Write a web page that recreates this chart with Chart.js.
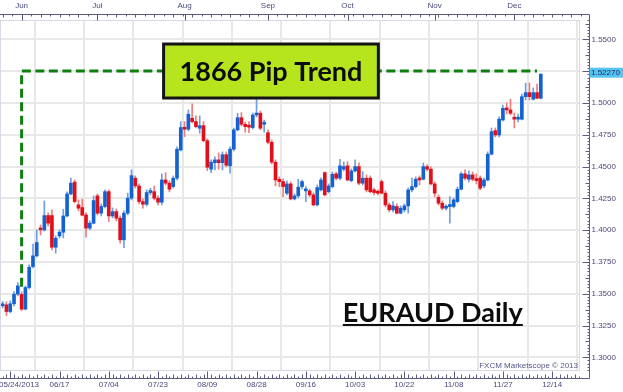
<!DOCTYPE html>
<html><head><meta charset="utf-8">
<script src="https://cdn.jsdelivr.net/npm/chart.js@4.4.0/dist/chart.umd.min.js"></script>
<style>html,body{margin:0;padding:0;background:#fff;overflow:hidden}canvas{display:block}</style>
</head><body>
<canvas id="c" width="623" height="392"></canvas>
<script>
// ---- data (EUR/AUD daily candles) ----
const dates = [
 '05/24','05/27','05/28','05/29','05/30','05/31',
 '06/03','06/04','06/05','06/06','06/07','06/10','06/11','06/12','06/13','06/14',
 '06/17','06/18','06/19','06/20','06/21','06/24','06/25','06/26','06/27','06/28',
 '07/01','07/02','07/03','07/04','07/05','07/08','07/09','07/10','07/11','07/12',
 '07/15','07/16','07/17','07/18','07/19','07/22','07/23','07/24','07/25','07/26',
 '07/29','07/30','07/31','08/01','08/02','08/05','08/06','08/07','08/08','08/09',
 '08/12','08/13','08/14','08/15','08/16','08/19','08/20','08/21','08/22','08/23',
 '08/26','08/27','08/28','08/29','08/30','09/02','09/03','09/04','09/05','09/06',
 '09/09','09/10','09/11','09/12','09/13','09/16','09/17','09/18','09/19','09/20',
 '09/23','09/24','09/25','09/26','09/27','09/30','10/01','10/02','10/03','10/04',
 '10/07','10/08','10/09','10/10','10/11','10/14','10/15','10/16','10/17','10/18',
 '10/21','10/22','10/23','10/24','10/25','10/28','10/29','10/30','10/31','11/01',
 '11/04','11/05','11/06','11/07','11/08','11/11','11/12','11/13','11/14','11/15',
 '11/18','11/19','11/20','11/21','11/22','11/25','11/26','11/27','11/28','11/29',
 '12/02','12/03','12/04','12/05','12/06','12/09','12/10','12/11'
];
const open = [
 1.3295,1.3405,1.3413,1.3360,1.3421,1.3497,1.3495,1.3379,1.3549,1.3714,
 1.3798,1.4016,1.4002,1.4115,1.4115,1.3866,1.3955,1.3984,1.4112,1.4285,
 1.4378,1.4199,1.4178,1.4120,1.4016,1.4055,1.4270,1.4134,1.4186,1.4303,
 1.4112,1.4146,1.4094,1.3924,1.4134,1.4252,1.4409,1.4348,1.4225,1.4204,
 1.4296,1.4303,1.4252,1.4220,1.4395,1.4370,1.4343,1.4409,1.4631,1.4807,
 1.4794,1.4880,1.4854,1.4802,1.4822,1.4704,1.4480,1.4531,1.4553,1.4531,
 1.4594,1.4506,1.4637,1.4789,1.4885,1.4833,1.4814,1.4807,1.4906,1.4920,
 1.4833,1.4767,1.4692,1.4535,1.4401,1.4382,1.4291,1.4364,1.4246,1.4270,
 1.4343,1.4309,1.4309,1.4278,1.4199,1.4317,1.4453,1.4303,1.4343,1.4443,
 1.4409,1.4480,1.4506,1.4390,1.4466,1.4500,1.4370,1.4409,1.4409,1.4317,
 1.4303,1.4382,1.4291,1.4199,1.4160,1.4186,1.4134,1.4160,1.4191,1.4317,
 1.4343,1.4409,1.4401,1.4500,1.4480,1.4364,1.4259,1.4212,1.4173,1.4186,
 1.4186,1.4225,1.4322,1.4443,1.4401,1.4435,1.4401,1.4409,1.4348,1.4395,
 1.4598,1.4783,1.4749,1.4867,1.4959,1.4946,1.4880,1.4873,1.4873,1.5050,
 1.5082,1.5030,1.5082,1.5038
];
const high = [
 1.3428,1.3439,1.3436,1.3444,1.3517,1.3588,1.3515,1.3562,1.3727,1.3890,
 1.4002,1.4042,1.4230,1.4136,1.4160,1.3955,1.4002,1.4165,1.4301,1.4409,
 1.4395,1.4238,1.4244,1.4136,1.4073,1.4270,1.4285,1.4207,1.4317,1.4317,
 1.4175,1.4167,1.4112,1.4152,1.4291,1.4474,1.4427,1.4364,1.4246,1.4317,
 1.4330,1.4348,1.4270,1.4443,1.4453,1.4388,1.4427,1.4655,1.4854,1.4854,
 1.4946,1.4993,1.4899,1.4899,1.4854,1.4718,1.4553,1.4576,1.4608,1.4616,
 1.4616,1.4655,1.4804,1.4920,1.4925,1.4851,1.4854,1.4922,1.5030,1.4938,
 1.4867,1.4789,1.4710,1.4553,1.4419,1.4403,1.4388,1.4380,1.4285,1.4401,
 1.4395,1.4343,1.4325,1.4293,1.4356,1.4411,1.4458,1.4364,1.4458,1.4458,
 1.4558,1.4537,1.4539,1.4482,1.4553,1.4529,1.4461,1.4435,1.4427,1.4332,
 1.4317,1.4395,1.4309,1.4215,1.4225,1.4207,1.4191,1.4207,1.4332,1.4409,
 1.4419,1.4427,1.4529,1.4516,1.4498,1.4380,1.4278,1.4230,1.4199,1.4264,
 1.4254,1.4340,1.4458,1.4474,1.4466,1.4458,1.4443,1.4427,1.4411,1.4616,
 1.4804,1.4804,1.4891,1.4985,1.5001,1.5030,1.4922,1.4914,1.5071,1.5156,
 1.5158,1.5119,1.5150,1.5230
];
const low = [
 1.3248,1.3389,1.3329,1.3350,1.3405,1.3483,1.3366,1.3373,1.3538,1.3704,
 1.3790,1.3963,1.3994,1.4034,1.3845,1.3819,1.3939,1.3939,1.4105,1.4278,
 1.4215,1.4152,1.4112,1.3945,1.4002,1.4050,1.4120,1.4112,1.4175,1.4068,
 1.4097,1.4073,1.3898,1.3863,1.4120,1.4238,1.4332,1.4207,1.4173,1.4191,
 1.4278,1.4238,1.4199,1.4199,1.4356,1.4301,1.4332,1.4395,1.4623,1.4736,
 1.4781,1.4844,1.4804,1.4763,1.4694,1.4469,1.4453,1.4474,1.4480,1.4474,
 1.4498,1.4448,1.4623,1.4781,1.4820,1.4770,1.4767,1.4796,1.4891,1.4789,
 1.4770,1.4678,1.4521,1.4348,1.4343,1.4264,1.4278,1.4238,1.4238,1.4254,
 1.4325,1.4225,1.4262,1.4191,1.4191,1.4309,1.4270,1.4293,1.4332,1.4395,
 1.4395,1.4466,1.4388,1.4380,1.4458,1.4356,1.4356,1.4301,1.4293,1.4278,
 1.4278,1.4285,1.4183,1.4144,1.4144,1.4128,1.4128,1.4144,1.4134,1.4301,
 1.4332,1.4356,1.4395,1.4466,1.4356,1.4262,1.4199,1.4160,1.4160,1.4055,
 1.4175,1.4215,1.4317,1.4395,1.4380,1.4388,1.4364,1.4317,1.4332,1.4388,
 1.4592,1.4734,1.4734,1.4859,1.4914,1.4906,1.4804,1.4851,1.4867,1.5024,
 1.5024,1.5024,1.5032,1.5032
];
const close = [
 1.3397,1.3421,1.3360,1.3421,1.3497,1.3562,1.3379,1.3549,1.3709,1.3798,
 1.3903,1.4002,1.4115,1.4055,1.3866,1.3937,1.3984,1.4112,1.4285,1.4370,
 1.4225,1.4173,1.4118,1.4016,1.4055,1.4233,1.4134,1.4186,1.4303,1.4112,
 1.4146,1.4094,1.3924,1.4134,1.4252,1.4429,1.4348,1.4225,1.4204,1.4296,
 1.4311,1.4252,1.4220,1.4395,1.4370,1.4322,1.4409,1.4637,1.4807,1.4794,
 1.4912,1.4854,1.4814,1.4822,1.4704,1.4495,1.4535,1.4553,1.4531,1.4594,
 1.4511,1.4637,1.4789,1.4885,1.4833,1.4814,1.4810,1.4906,1.4920,1.4802,
 1.4841,1.4692,1.4535,1.4395,1.4382,1.4343,1.4364,1.4246,1.4270,1.4338,
 1.4382,1.4317,1.4278,1.4199,1.4335,1.4395,1.4278,1.4348,1.4440,1.4409,
 1.4506,1.4500,1.4395,1.4466,1.4500,1.4370,1.4409,1.4317,1.4303,1.4296,
 1.4291,1.4291,1.4199,1.4160,1.4191,1.4134,1.4173,1.4191,1.4317,1.4343,
 1.4401,1.4395,1.4500,1.4480,1.4364,1.4291,1.4212,1.4173,1.4186,1.4191,
 1.4238,1.4322,1.4443,1.4409,1.4435,1.4401,1.4390,1.4330,1.4395,1.4598,
 1.4775,1.4749,1.4873,1.4959,1.4946,1.4920,1.4873,1.4880,1.5050,1.5082,
 1.5050,1.5082,1.5038,1.5227
];
// tick labels
const dateTickIndex  = [3,16,29,42,55,68,81,94,107,120,133,146];
const dateTickLabels = ['05/24/2013','06/17','07/04','07/23','08/09','08/28','09/16','10/03','10/22','11/08','11/27','12/14'];
const monthTickIndex  = [6,26,49,71,92,115,136];
const monthTickLabels = ['Jun','Jul','Aug','Sep','Oct','Nov','Dec'];
const priceTicks = [1.3000,1.3250,1.3500,1.3750,1.4000,1.4250,1.4500,1.4750,1.5000,1.5250,1.5500];
// trend annotation (data space)
const trendIndex = [6, 6, 142];
const trendPrice = [1.3555, 1.5252, 1.5252];
const trendLabel = '1866 Pip Trend';
const titleText  = 'EURAUD Daily';
const creditText = 'FXCM Marketscope \u00A9 2013';

// ---- layout / style constants ----
const X_MIN = 0.30, X_MAX = 153.34, Y_MIN = 1.28923, Y_MAX = 1.56533;
const LABEL_BOX_INDEX = 71.8, TITLE_INDEX = 114.5, TITLE_PRICE = 1.3278;
const BLUE = '#1462d0', RED = '#e0101a', BLUE_W = '#6f9fe2', RED_W = '#ee7c7c';
const AXIS_COL = '#5c5c80', LABEL_COL = '#4a4a7c', GRID_COL = '#e8e8e8';
const SMALL_FONT = '8px "Liberation Sans", Arial, sans-serif';
const BIG_FONT = 'bold 27px Lato, "Open Sans", sans-serif';

const idx = dates.map((d, i) => i);
const up = idx.map(i => close[i] >= open[i]);

const overlay = {
  id: 'overlay',
  afterDatasetsDraw(chart) {
    const {ctx, scales: {x, y}} = chart;
    ctx.save();
    // "1866 Pip Trend" box on the trend line
    const cx = x.getPixelForValue(LABEL_BOX_INDEX), cy = y.getPixelForValue(trendPrice[1]);
    ctx.font = BIG_FONT;
    const tw = ctx.measureText(trendLabel).width;
    const bw = tw + 32, bh = 54;
    ctx.fillStyle = '#b6e51e';
    ctx.fillRect(cx - bw / 2, cy - bh / 2, bw, bh);
    ctx.lineWidth = 3; ctx.strokeStyle = '#141414';
    ctx.strokeRect(cx - bw / 2, cy - bh / 2, bw, bh);
    ctx.fillStyle = '#0c0c0c'; ctx.textAlign = 'center'; ctx.textBaseline = 'middle';
    ctx.fillText(trendLabel, cx, cy + 1);
    // title
    const tx = x.getPixelForValue(TITLE_INDEX), ty = y.getPixelForValue(TITLE_PRICE);
    ctx.font = BIG_FONT;
    ctx.textBaseline = 'alphabetic';
    const ttw = ctx.measureText(titleText).width;
    ctx.fillText(titleText, tx, ty);
    ctx.fillRect(tx - ttw / 2, ty + 2, ttw, 2);
    ctx.restore();
  },
  afterDraw(chart) {
    const {ctx, chartArea: a, scales: {x, y}} = chart;
    ctx.save();
    // plot frame
    ctx.strokeStyle = '#d6d9e2'; ctx.lineWidth = 1;
    ctx.strokeRect(a.left + 0.5, a.top + 0.5, a.right - a.left - 1, a.bottom - a.top - 1);
    const topY = a.top - 5.5, botY = a.bottom + 7.5, rX = a.right + 9.5;
    ctx.strokeStyle = AXIS_COL;
    ctx.beginPath();
    ctx.moveTo(0, topY); ctx.lineTo(rX, topY);
    ctx.moveTo(0, botY); ctx.lineTo(rX, botY);
    ctx.moveTo(rX, topY); ctx.lineTo(rX, botY);
    // top ticks
    for (let i = 0; i < 154; i++) {
      if ((i % 5) === 1) { const px = Math.round(x.getPixelForValue(i)) + 0.5; ctx.moveTo(px, topY); ctx.lineTo(px, topY + 3); }
      const pm = Math.round(x.getPixelForValue(i + 0.5)) + 0.5;
      if ((i % 5) === 3) { ctx.moveTo(pm, topY); ctx.lineTo(pm, topY + 2); }
    }
    monthTickIndex.forEach(v => { const px = Math.round(x.getPixelForValue(v)) + 0.5; ctx.moveTo(px, topY); ctx.lineTo(px, topY + 6); });
    // bottom ticks
    for (let i = 1; i < 154; i++) {
      const px = Math.round(x.getPixelForValue(i)) + 0.5;
      const len = (i % 2) ? 2 : 4;
      ctx.moveTo(px, botY); ctx.lineTo(px, botY - len);
    }
    dateTickIndex.forEach(v => { const px = Math.round(x.getPixelForValue(v)) + 0.5; ctx.moveTo(px, botY); ctx.lineTo(px, botY - 7); });
    // right ticks
    for (let k = 0; k * 0.0025 + 1.2875 < Y_MAX; k++) {
      const v = 1.2875 + k * 0.0025; if (v < Y_MIN) continue;
      const py = Math.round(y.getPixelForValue(v)) + 0.5;
      const len = (k % 10 === 5) ? 7 : (k % 5 === 0 ? 4 : 2);
      ctx.moveTo(rX, py); ctx.lineTo(rX - len, py);
    }
    ctx.stroke();
    // labels
    ctx.font = SMALL_FONT; ctx.fillStyle = LABEL_COL; ctx.textBaseline = 'middle';
    ctx.textAlign = 'center';
    monthTickIndex.forEach((v, k) => ctx.fillText(monthTickLabels[k], x.getPixelForValue(v), topY - 8.5));
    dateTickIndex.forEach((v, k) => {
      const w = ctx.measureText(dateTickLabels[k]).width;
      let px = x.getPixelForValue(v);
      px = Math.max(px, w / 2 - 1);
      ctx.fillText(dateTickLabels[k], px, botY + 6.5);
    });
    const last = close[close.length - 1];
    const ly = y.getPixelForValue(last) - 1.5;
    ctx.textAlign = 'left';
    priceTicks.forEach(v => {
      const py = y.getPixelForValue(v);
      if (Math.abs(py - ly) > 9) ctx.fillText(v.toFixed(4), rX + 2, py);
    });
    // last price marker
    ctx.fillStyle = '#56c4f2';
    ctx.fillRect(rX, ly - 5, 623 - rX, 10);
    ctx.fillStyle = '#1c2a5a';
    ctx.fillText(last.toFixed(5), rX + 1.5, ly);
    // credit
    ctx.textAlign = 'right'; ctx.fillStyle = '#55558a';
    ctx.fillText(creditText, a.right - 2, a.bottom - 5);
    ctx.restore();
  }
};

new Chart(document.getElementById('c'), {
  type: 'bar',
  data: {
    datasets: [
      { type: 'line', data: trendIndex.map((v, k) => ({x: v, y: trendPrice[k]})),
        borderColor: '#0e7f10', borderWidth: 3, borderDash: [9, 4.5], pointRadius: 0,
        fill: false, tension: 0, order: 0 },
      { label: 'wick', data: idx.map(i => ({x: i, y: [low[i], high[i]]})),
        backgroundColor: idx.map(i => up[i] ? BLUE_W : RED_W),
        barThickness: 1, grouped: false, order: 2 },
      { label: 'body', data: idx.map(i => ({x: i, y: [open[i], close[i]]})),
        backgroundColor: idx.map(i => up[i] ? BLUE : RED),
        barThickness: 3, grouped: false, minBarLength: 2, order: 1 }
    ]
  },
  options: {
    responsive: false, devicePixelRatio: 1, animation: false,
    layout: {padding: 0},
    plugins: {legend: {display: false}, tooltip: {enabled: false}},
    scales: {
      x: { type: 'linear', position: 'bottom', min: X_MIN, max: X_MAX, offset: false,
           grid: {color: GRID_COL, lineWidth: 2, drawTicks: false}, border: {display: false},
           ticks: {display: false},
           afterBuildTicks: s => { s.ticks = dateTickIndex.map(v => ({value: v})); },
           afterFit: s => { s.height = 21; } },
      xTop: { type: 'linear', position: 'top', min: X_MIN, max: X_MAX,
           grid: {display: false, drawTicks: false}, border: {display: false},
           ticks: {display: false}, afterFit: s => { s.height = 20; } },
      y: { type: 'linear', position: 'right', min: Y_MIN, max: Y_MAX,
           grid: {color: GRID_COL, lineWidth: 2, drawTicks: false}, border: {display: false},
           ticks: {display: false},
           afterBuildTicks: s => { s.ticks = priceTicks.map(v => ({value: v})); },
           afterFit: s => { s.width = 43; } }
    }
  },
  plugins: [overlay]
});
</script>
</body></html>
